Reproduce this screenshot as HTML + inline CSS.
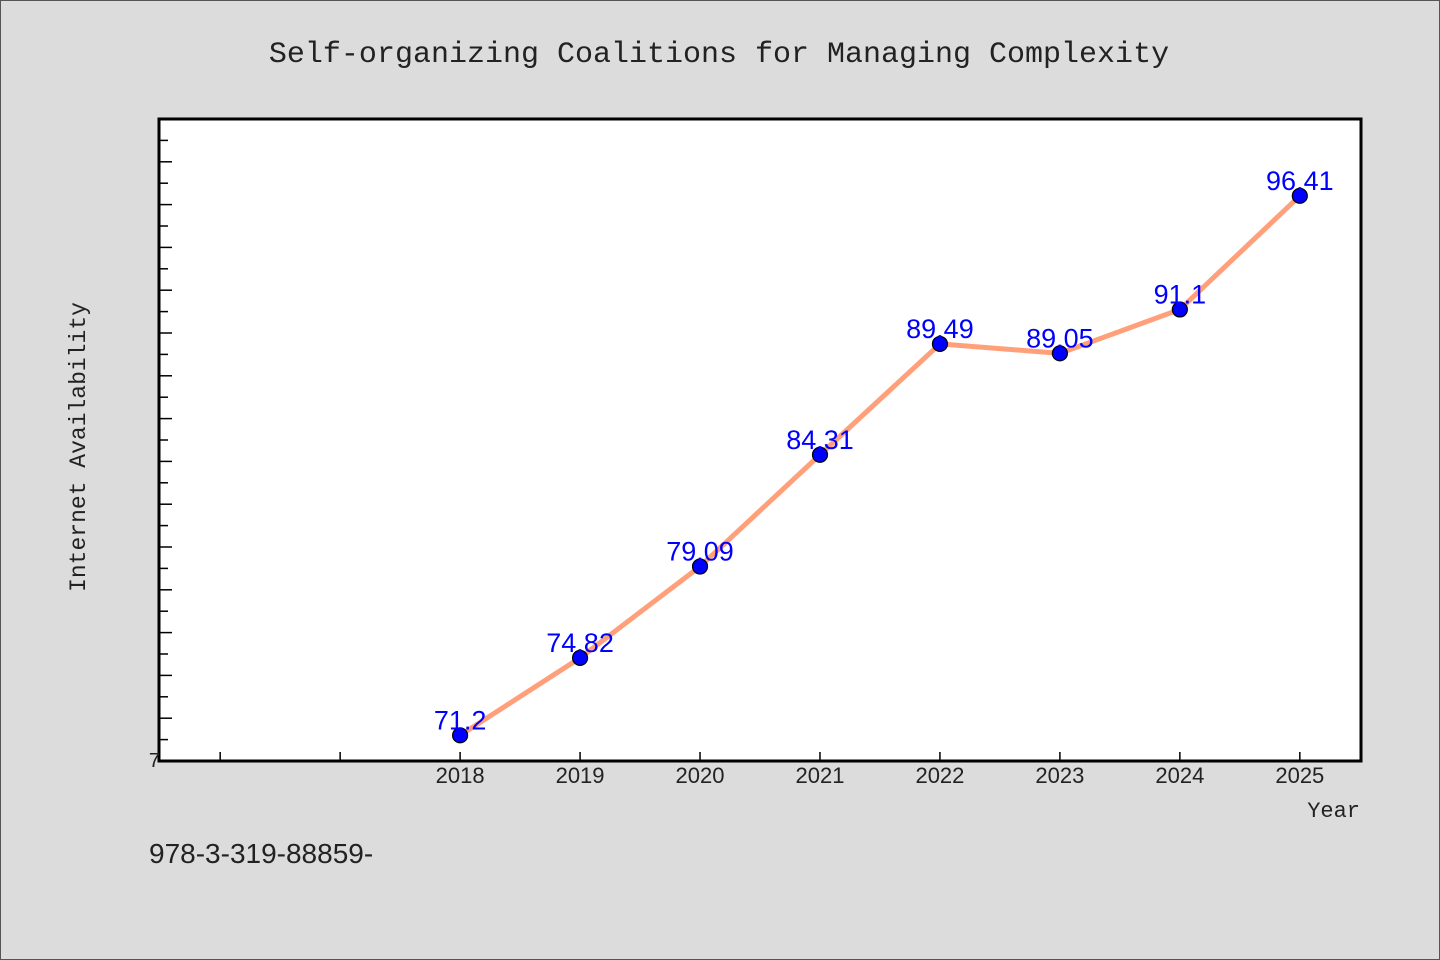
<!DOCTYPE html>
<html><head><meta charset="utf-8"><style>
body{margin:0;background:#dcdcdc}
svg{display:block}
</style></head><body>
<svg width="1440" height="960" xmlns="http://www.w3.org/2000/svg">
<rect x="0.5" y="0.5" width="1439" height="959" fill="#dcdcdc" stroke="#555"/>
<text x="719" y="62" text-anchor="middle" font-family="Liberation Mono, monospace" font-size="30" fill="#222">Self-organizing Coalitions for Managing Complexity</text>
<rect x="159" y="119" width="1202" height="642" fill="#fff" stroke="#000" stroke-width="3"/>
<g id="ticks"></g>
<g id="series"></g>
<text x="160" y="767" text-anchor="end" font-family="Liberation Sans, sans-serif" font-size="20" fill="#222">7</text>
<text transform="translate(85,447) rotate(-90)" text-anchor="middle" font-family="Liberation Mono, monospace" font-size="23" fill="#222">Internet Availability</text>
<text x="1360" y="817" text-anchor="end" font-family="Liberation Mono, monospace" font-size="22" fill="#222">Year</text>
<text x="149" y="863" font-family="Liberation Sans, sans-serif" font-size="28" fill="#222">978-3-319-88859-</text>
</svg>
<script>
const years=[2018,2019,2020,2021,2022,2023,2024,2025];
const values=[71.2,74.82,79.09,84.31,89.49,89.05,91.1,96.41];
const labels=["71.2","74.82","79.09","84.31","89.49","89.05","91.1","96.41"];
const yMin=70,yMax=100,xMin=2015.49,xMax=2025.51;
const NS="http://www.w3.org/2000/svg";
const X=v=>159+(v-xMin)/(xMax-xMin)*1202;
const Y=v=>761-(v-yMin)/(yMax-yMin)*642;
function mk(tag,attrs,parent){const e=document.createElementNS(NS,tag);for(const k in attrs)e.setAttribute(k,attrs[k]);parent.appendChild(e);return e;}
const tg=document.getElementById('ticks'),sg=document.getElementById('series');
for(let v=yMin+1;v<yMax;v++){
  const len=(v%2===0)?12:8;
  const t=mk('line',{x1:160,x2:160+len,y1:Y(v),y2:Y(v),stroke:'#000','stroke-width':1.5},tg);
  
  
}
for(let yr=2016;yr<=2025;yr++){
  const t=mk('line',{x1:X(yr),x2:X(yr),y1:760,y2:752,stroke:'#000','stroke-width':1.5},tg);
  
  
}
years.forEach(yr=>{
  const t=mk('text',{x:X(yr),y:783,'text-anchor':'middle','font-family':'Liberation Sans, sans-serif','font-size':22,fill:'#222'},tg);
  t.textContent=String(yr);
  
  
});
const pl=mk('polyline',{points:years.map((y,i)=>X(y)+','+Y(values[i])).join(' '),fill:'none',stroke:'#ffa07a','stroke-width':5,'stroke-linejoin':'round'},sg);


years.forEach((yr,i)=>{
  const c=mk('circle',{cx:X(yr),cy:Y(values[i]),r:7.5,fill:'#0000ff',stroke:'#000','stroke-width':1.2},sg);
  
  
});
years.forEach((yr,i)=>{
  const t=mk('text',{x:X(yr),y:Y(values[i])-6,'text-anchor':'middle','font-family':'Liberation Sans, sans-serif','font-size':27,fill:'#0000ff'},sg);
  t.textContent=labels[i];
  
  
});
</script>
</body></html>
